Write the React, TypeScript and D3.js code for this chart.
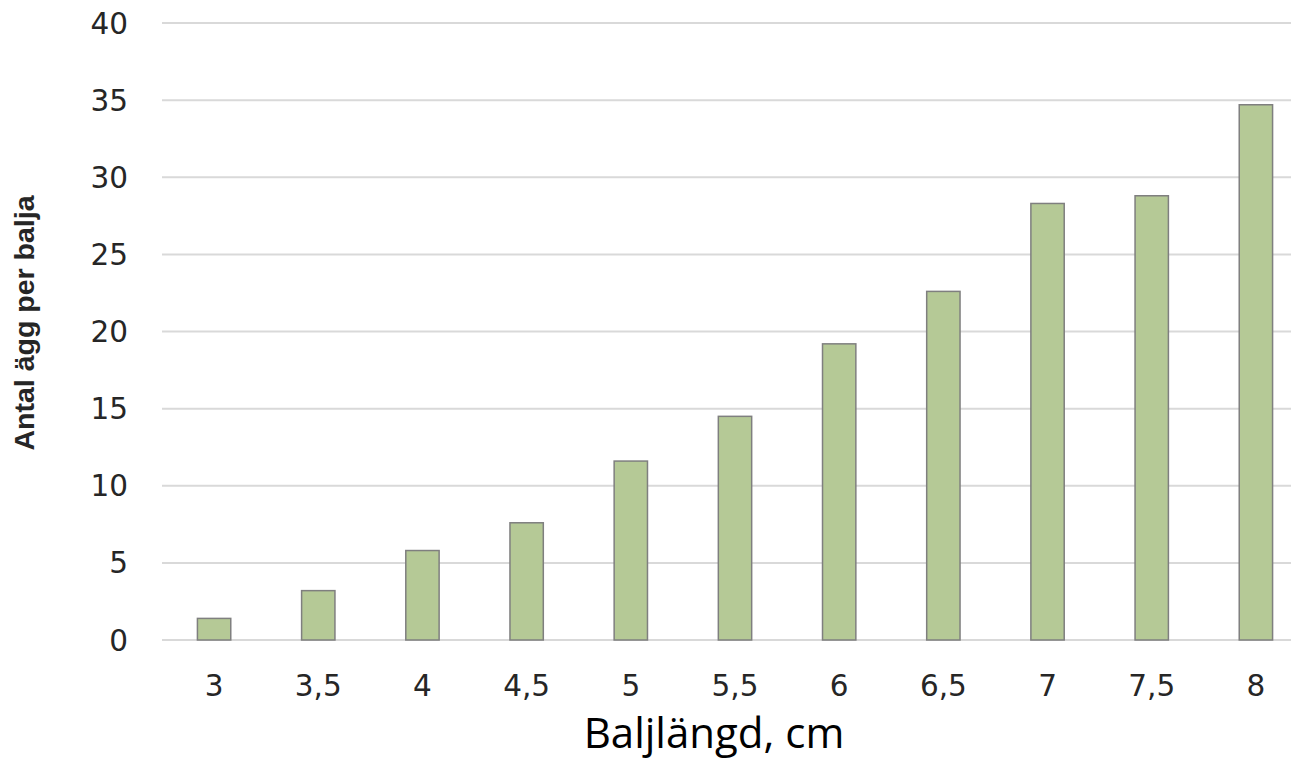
import React from "react";
import * as d3 from "d3";

const categories = ["3", "3,5", "4", "4,5", "5", "5,5", "6", "6,5", "7", "7,5", "8"];
const values = [1.4, 3.2, 5.8, 7.6, 11.6, 14.5, 19.2, 22.6, 28.3, 28.8, 34.7];
const yTicks = [0, 5, 10, 15, 20, 25, 30, 35, 40];
const yTitle = "Antal ägg per balja";
const xTitle = "Baljlängd, cm";

const W = 1291;
const H = 760;
const left = 162;
const right = 1308;
const top = 23;
const bottom = 640;

export default function App() {
  const x = d3.scaleBand<string>().domain(categories).range([left, right]).paddingInner(0.68).paddingOuter(0.34);
  const y = d3.scaleLinear().domain([0, 40]).range([bottom, top]);
  const bw = x.bandwidth();
  return (
    <svg width={W} height={H} style={{ position: "absolute", left: 0, top: 0, background: "#fff" }}>
      {yTicks.map((t) => (
        <g key={t}>
          <line x1={left} x2={W} y1={y(t)} y2={y(t)} stroke="#d9d9d9" strokeWidth={2} />
          <text x={128} y={y(t)} dy="0.36em" textAnchor="end" fontFamily="DejaVu Sans" fontSize={29.5} fill="#262626">
            {t}
          </text>
        </g>
      ))}
      {categories.map((c, i) => (
        <g key={c}>
          <rect x={x(c)!} y={y(values[i])} width={bw} height={y(0) - y(values[i])} fill="#b5c996" stroke="#7f7f7f" strokeWidth={1.5} />
          <text x={x(c)! + bw / 2} y={685} dy="0.36em" textAnchor="middle" fontFamily="DejaVu Sans" fontSize={29.5} fill="#262626">
            {c}
          </text>
        </g>
      ))}
      <text transform={`translate(34,323) rotate(-90)`} textAnchor="middle" fontFamily="Liberation Sans" fontWeight="bold" fontSize={28.5} fill="#262626">
        {yTitle}
      </text>
      <text x={714} y={748} textAnchor="middle" fontFamily="Open Sans" fontSize={42} fill="#000">
        {xTitle}
      </text>
    </svg>
  );
}
